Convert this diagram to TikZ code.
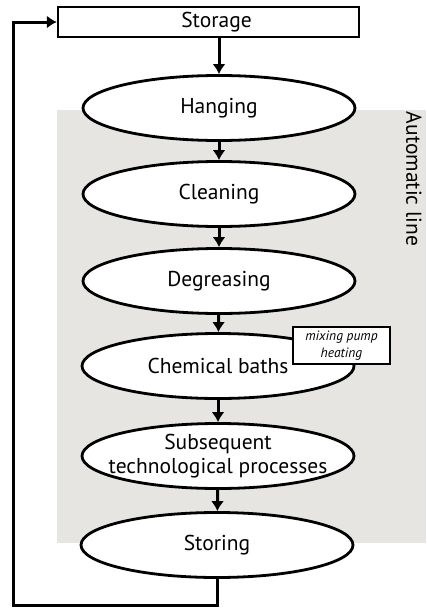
\documentclass[tikz,border=0pt]{standalone}
\usepackage{fontspec}
\setmainfont{PT Sans}
\usetikzlibrary{shapes.geometric,arrows.meta}
\definecolor{linegray}{RGB}{231,229,226}

\begin{document}
\begin{tikzpicture}[>={Latex[length=10pt,width=13pt]}, x=1pt, y=-1pt,
		every node/.style={font=\fontsize{21.5}{24}\selectfont},
		procstyle/.style={ellipse,draw,fill=white,line width=2.8pt,minimum width=272pt,minimum height=65pt,inner xsep=-30pt,inner ysep=-8pt,align=center},
		boxstyle/.style={rectangle,draw,fill=white,line width=2.4pt,inner sep=0pt},
		arrowstyle/.style={->,line width=3pt}]
		
		\useasboundingbox (0,0) rectangle (426,608);
		\fill[linegray] (57,110) rectangle (426,543);
		\node[rotate=-90] (auto) at (414,179) {Automatic line};
		
		\node[boxstyle,minimum width=301pt,minimum height=30pt] (storage) at (208.5,22) {\hspace*{16pt}Storage};
		\node[procstyle] (hanging) at (219,108) {Hanging};
		\node[procstyle] (cleaning) at (219,194) {Cleaning};
		\node[procstyle] (degreasing) at (219,281) {Degreasing};
		\node[procstyle] (chemical) at (218,366) {Chemical baths};
		\node[procstyle] (subsequent) at (218,456) {Subsequent\\technological processes};
		\node[procstyle] (storing) at (217,545) {Storing};
		\node[boxstyle,line width=1.8pt,minimum width=97pt,minimum height=37pt,align=center,
			font=\itshape\fontsize{13.5}{17}\selectfont] (mixing) at (341.5,345.5) {mixing pump\\heating};
		
		\coordinate (corner) at (13,605);
		
		\draw[arrowstyle] (hanging.north |- storage.south) -- (hanging.north);
		\draw[arrowstyle]   (hanging) to (cleaning);
		\draw[arrowstyle]   (cleaning) to (degreasing);
		\draw[arrowstyle]   (degreasing) to (chemical);
		\draw[arrowstyle]   (chemical) to (subsequent);
		\draw[arrowstyle]   (subsequent) to (storing);
		\draw[arrowstyle]   (storing.south) |- (corner) |- (storage.west);
		\end{tikzpicture}
\end{document}
